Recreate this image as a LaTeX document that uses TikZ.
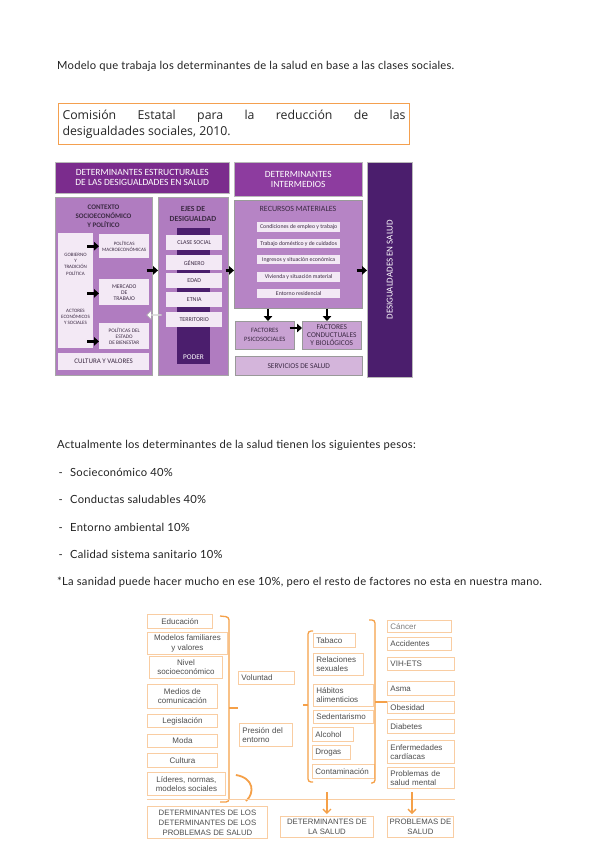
\documentclass[tikz,border=0pt]{standalone}
\usepackage{fontspec}
\setmainfont{Lato}
\newfontfamily\bodyf[LetterSpace=2.2]{Lato}
\newfontfamily\calf{Carlito}
\newfontfamily\arf{Liberation Sans}
\newfontfamily\titf{Open Sans}
\usetikzlibrary{arrows.meta,shapes.arrows}
\definecolor{hdrA}{HTML}{7B2C8D}
\definecolor{hdrB}{HTML}{8D3C9F}
\definecolor{midP}{HTML}{B07CC0}
\definecolor{recP}{HTML}{B684C5}
\definecolor{facP}{HTML}{C9A2D3}
\definecolor{serP}{HTML}{D4B5DB}
\definecolor{wP}{HTML}{F3E9F5}
\definecolor{darkP}{HTML}{4B1E6D}
\definecolor{ptxt}{HTML}{3C2A44}
\definecolor{orT}{HTML}{F4A04F}
\definecolor{orB}{HTML}{F9CDA2}
\definecolor{orL}{HTML}{F5A048}
\definecolor{gtxt}{HTML}{4E4E4E}
\definecolor{bodytxt}{HTML}{222222}
\newcommand\bxc[7]{%
  \pgfmathsetmacro\bw{#5-#3}\pgfmathsetmacro\bh{#6-#4}%
  \node[#1, anchor=north west, minimum width=\bw pt, minimum height=\bh pt, align=center] (#2) at (#3,#4) {#7};}
\newcommand\bxl[7]{%
  \pgfmathsetmacro\bw{#5-#3}\pgfmathsetmacro\bh{#6-#4}\pgfmathsetmacro\tw{#5-#3-6}%
  \node[#1, anchor=north west, minimum width=\bw pt, minimum height=\bh pt, text width=\tw pt, inner xsep=3pt, align=left] (#2) at (#3,#4) {#7};}
\begin{document}
\begin{tikzpicture}[x=1pt,y=-1pt,
  hdr/.style={draw=gray!55, line width=0.5pt, inner sep=0pt, text=white, font=\calf\fontsize{9.5}{10}\selectfont},
  midb/.style={draw=gray!70, line width=0.6pt, fill=midP, inner sep=0pt},
  wb/.style={fill=wP, inner sep=0pt, text=ptxt, font=\calf\fontsize{6}{7}\selectfont},
  lbl/.style={inner sep=0pt, align=center, text=ptxt},
  barr/.style={line width=2.8pt, -{Triangle[length=5pt,width=8.5pt]}},
  bb/.style={draw=orB, line width=0.9pt, fill=white, inner sep=1pt, text=gtxt, font=\arf\fontsize{8}{9.2}\selectfont},
  brk/.style={draw=orL, line width=1.3pt, rounded corners=3pt},
  darr/.style={draw=orL, line width=1.3pt, -{Straight Barb[length=4pt,width=8pt]}},
  body/.style={anchor=base west, inner sep=0pt, text=bodytxt, font=\bodyf\fontsize{11.2}{13}\selectfont}
]
\useasboundingbox[fill=white] (0,0) rectangle (599,848);

% ---------------- text line 1
\node[body] (t1) at (57,70) {Modelo que trabaja los determinantes de la salud en base a las clases sociales.};

% ---------------- diagram 1
\node[draw=orT, line width=1.1pt, anchor=north west, minimum width=351pt, minimum height=41pt,
      text width=343pt, inner sep=3pt, align=justify, text=gray!30!black,
      font=\titf\fontsize{12.3}{16}\selectfont] (tit) at (58,103)
  {Comisión Estatal para la reducción de las\linebreak desigualdades sociales, 2010.};

\bxc{hdr, fill=hdrA}{dest}{55}{162}{229}{193}{DETERMINANTES ESTRUCTURALES\\DE LAS DESIGUALDADES EN SALUD}
\bxc{hdr, fill=hdrB}{dint}{234}{162}{362}{196}{DETERMINANTES\\INTERMEDIOS}
\bxc{draw=gray!55, line width=0.5pt, fill=darkP, inner sep=0pt}{desig}{367}{162}{412}{377}{}
\node[rotate=90, inner sep=0pt, text=white, font=\calf\fontsize{9}{10}\selectfont] (desigt) at (desig.center) {DESIGUALDADES EN SALUD};

% contexto
\bxc{midb}{ctx}{55}{197}{152}{375}{}
\node[lbl, font=\calf\bfseries\fontsize{7}{9}\selectfont] (ctxt) at (103.5,216) {CONTEXTO\\SOCIOECONÓMICO\\Y POLÍTICO};
\bxc{wb}{gob}{58}{233}{93}{348}{}
\node[lbl, font=\calf\fontsize{5}{6.4}\selectfont] (gobt) at (75.5,264) {GOBIERNO\\Y\\TRADICIÓN\\POLÍTICA};
\node[lbl, font=\calf\fontsize{5}{6.2}\selectfont] (actt) at (75.5,317) {ACTORES\\ECONÓMICOS\\Y SOCIALES};
\bxc{wb, font=\calf\fontsize{5}{6}\selectfont}{pmac}{99}{234}{149}{258}{POLÍTICAS\\MACROECONÓMICAS}
\bxc{wb, font=\calf\fontsize{5.7}{6}\selectfont}{merc}{99}{279}{149}{305}{MERCADO\\DE\\TRABAJO}
\bxc{wb, font=\calf\fontsize{5.3}{6}\selectfont}{pest}{99}{323}{149}{349}{POLÍTICAS DEL\\ESTADO\\DE BIENESTAR}
\bxc{wb, font=\calf\fontsize{7}{7}\selectfont}{cult}{58}{353}{149}{370}{CULTURA Y VALORES}
\draw[barr] ([xshift=-6pt]gob.east |- pmac.west) -- (pmac.west);
\draw[barr] ([xshift=-6pt]gob.east |- merc.south) ++(0,-12) -- ([yshift=12pt]merc.south west);
\draw[barr] ([xshift=-6pt]gob.east |- pest.south) ++(0,-8) -- ([yshift=8pt]pest.south west);

% ejes
\bxc{midb}{ejes}{158}{197}{228}{375}{}
\node[lbl, font=\calf\bfseries\fontsize{7.8}{10}\selectfont] (ejest) at (193,214) {EJES DE\\DESIGUALDAD};
\bxc{fill=darkP, inner sep=0pt}{poder}{177}{228}{210}{364}{}
\node[inner sep=0pt, text=white, font=\calf\fontsize{7.3}{8}\selectfont] (podert) at (193.5,357) {PODER};
\bxc{wb}{cs}{166}{235}{222}{250}{CLASE SOCIAL}
\bxc{wb}{gen}{166}{255}{222}{270}{GÉNERO}
\bxc{wb}{edad}{166}{273}{222}{288}{EDAD}
\bxc{wb}{etn}{166}{292}{222}{307}{ETNIA}
\bxc{wb}{terr}{166}{312}{222}{327}{TERRITORIO}
\draw[barr] ([xshift=-6pt]ctx.east |- gen.south) -- ([xshift=0pt]ejes.west |- gen.south);
\node[single arrow, shape border rotate=180, draw=gray!70, fill=white, line width=0.4pt,
      minimum height=15pt, minimum width=9pt, single arrow head extend=1.5pt, inner sep=0pt] (warr) at (154.5,315) {};
\draw[barr] ([xshift=-3pt]ejes.east |- gen.south) -- (dint.west |- gen.south);

% recursos
\bxc{midb, fill=recP, draw=gray!80}{rec}{234}{200}{362}{308}{}
\node[lbl, font=\calf\fontsize{8}{9}\selectfont] (rect) at (298,209) {RECURSOS MATERIALES};
\bxc{wb, font=\calf\fontsize{5.8}{6}\selectfont}{r1}{257}{222}{340}{232}{Condiciones de empleo y trabajo}
\bxc{wb, font=\calf\fontsize{5.8}{6}\selectfont}{r2}{257}{239}{340}{248}{Trabajo doméstico y de cuidados}
\bxc{wb, font=\calf\fontsize{5.8}{6}\selectfont}{r3}{257}{255}{340}{264}{Ingresos y situación económica}
\bxc{wb, font=\calf\fontsize{5.8}{6}\selectfont}{r4}{257}{272}{340}{282}{Vivienda y situación material}
\bxc{wb, font=\calf\fontsize{5.8}{6}\selectfont}{r5}{257}{289}{340}{298}{Entorno residencial}
\bxc{midb, fill=facP, draw=gray!80, text=ptxt, font=\calf\fontsize{6.6}{9}\selectfont}{fps}{235}{321}{294}{349}{FACTORES\\PSICOSOCIALES}
\bxc{midb, fill=facP, draw=gray!80, text=ptxt, font=\calf\fontsize{7.4}{8}\selectfont}{fcb}{302}{321}{361}{349}{FACTORES\\CONDUCTUALES\\Y BIOLÓGICOS}
\bxc{midb, fill=serP, draw=gray!80, text=ptxt, font=\calf\fontsize{7.4}{8}\selectfont}{serv}{235}{356}{362}{375}{SERVICIOS DE SALUD}
\draw[barr] (rec.south -| 268,0) -- (fps.north -| 268,0);
\draw[barr] (rec.south -| 327,0) -- (fcb.north -| 327,0);
\draw[barr] ([xshift=-5pt]fps.east |- 0,328) -- (fcb.west |- 0,328);
\draw[barr] ([xshift=-6pt]rec.east |- gen.south) -- (desig.west |- gen.south);

% ---------------- text block
\node[body] (t2) at (57,448) {Actualmente los determinantes de la salud tienen los siguientes pesos:};
\node[body] (d1) at (58.5,476) {-};
\node[body] (l1) at (70,476) {Socieconómico 40\%};
\node[body] (d2) at (58.5,503) {-};
\node[body] (l2) at (70,503) {Conductas saludables 40\%};
\node[body] (d3) at (58.5,531) {-};
\node[body] (l3) at (70,531) {Entorno ambiental 10\%};
\node[body] (d4) at (58.5,558) {-};
\node[body] (l4) at (70,558) {Calidad sistema sanitario 10\%};
\node[body] (t3) at (57,585) {*La sanidad puede hacer mucho en ese 10\%, pero el resto de factores no esta en nuestra mano.};

% ---------------- diagram 2
\bxc{bb}{edu}{147}{614}{212}{628}{Educación}
\bxc{bb}{mod}{147}{632}{227}{654}{Modelos familiares\\y valores}
\bxc{bb}{niv}{149}{656}{222}{678}{Nivel\\socioeconómico}
\bxc{bb}{med}{147}{684}{217}{708}{Medios de\\comunicación}
\bxc{bb}{leg}{147}{714}{217}{727}{Legislación}
\bxc{bb}{moda}{147}{734}{217}{747}{Moda}
\bxc{bb}{cul}{147}{753}{217}{767}{Cultura}
\bxc{bb}{lid}{147}{772}{225}{795}{Líderes, normas,\\modelos sociales}

\bxl{bb}{vol}{238}{671}{294}{684}{Voluntad}
\bxl{bb}{pres}{239}{723}{292}{746}{Presión del\\entorno}

\bxl{bb}{tab}{313}{633}{355}{647}{Tabaco}
\bxl{bb}{rel}{313}{653}{363}{675}{Relaciones\\sexuales}
\bxl{bb}{hab}{313}{684}{373}{706}{Hábitos\\alimenticios}
\bxl{bb}{sed}{313}{710}{373}{723}{Sedentarismo}
\bxl{bb}{alc}{312}{727}{353}{741}{Alcohol}
\bxl{bb}{dro}{312}{745}{350}{759}{Drogas}
\bxl{bb}{con}{312}{764}{374}{778}{Contaminación}

\bxl{bb, text=gray}{can}{387}{620}{451}{632}{Cáncer}
\bxl{bb}{acc}{387}{637}{451}{650}{Accidentes}
\bxl{bb}{vih}{387}{657}{454}{670}{VIH-ETS}
\bxl{bb}{asm}{387}{681}{454}{695}{Asma}
\bxl{bb}{obe}{387}{701}{454}{713}{Obesidad}
\bxl{bb}{dia}{387}{719}{454}{733}{Diabetes}
\bxl{bb}{enf}{387}{740}{454}{763}{Enfermedades\\cardíacas}
\bxl{bb}{psm}{387}{767}{454}{788}{Problemas de\\salud mental}

\bxc{bb, font=\arf\fontsize{7.8}{10}\selectfont}{ddd}{147}{806}{267}{838}{DETERMINANTES DE LOS\\DETERMINANTES DE LOS\\PROBLEMAS DE SALUD}
\bxc{bb, font=\arf\fontsize{7.8}{10}\selectfont}{dsal}{280}{816}{373}{837}{DETERMINANTES DE\\LA SALUD}
\bxc{bb, font=\arf\fontsize{7.8}{10}\selectfont}{prob}{387}{816}{453}{837}{PROBLEMAS DE\\SALUD}

% brackets
\coordinate (b1t) at (220,616);
\coordinate (b1b) at (220,802);
\draw[brk] (b1t) -- (229,617) -- (229,802) -- (b1b);
\draw[brk] (229,708) -- (vol.west |- 0,708);
\draw[brk] (tab.north west) ++(0,-2) -- (308,631) -- (308,782) -- (313,782);
\draw[brk] (308,705) -- (303,705);
\draw[brk] (369,620) -- (375,620) -- (375,783) -- (371,783);
\draw[brk] (375,702) -- (obe.west |- 0,702);
\draw[draw=orL, line width=1.8pt] (lid.north east) ++(10,3) .. controls (254,778) and (255,793) .. (246,801);
\coordinate (hl) at (455,799);
\draw[draw=orB, line width=0.9pt] (ddd.north west |- hl) -- (hl);
\draw[darr] ([yshift=24pt]dsal.north) -- ([yshift=2pt]dsal.north);
\draw[darr] ([yshift=24pt]prob.north -| 412,0) -- ([yshift=2pt]prob.north -| 412,0);
\end{tikzpicture}
\end{document}
